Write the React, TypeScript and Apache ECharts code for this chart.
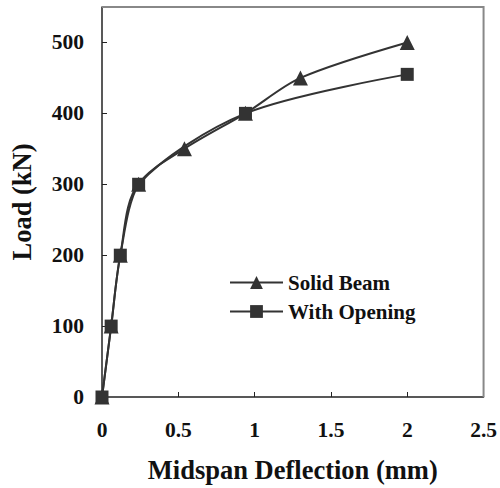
import React, { useEffect, useRef } from "react";
import * as echarts from "echarts";

const solidX = [0, 0.06, 0.12, 0.24, 0.54, 0.94, 1.3, 2.0];
const solidY = [0, 100, 200, 300, 350, 400, 450, 500];
const openX = [0, 0.06, 0.12, 0.24, 0.94, 2.0];
const openY = [0, 100, 200, 300, 400, 455];
const xRange = [0, 2.5];
const yRange = [0, 550];

const FONT = "Liberation Serif";

export default function App() {
  const ref = useRef<HTMLDivElement>(null);
  useEffect(() => {
    const chart = echarts.init(ref.current!, null, { renderer: "svg" });
    chart.setOption({
      animation: false,
      backgroundColor: "#fff",
      grid: {
        left: 96,
        top: 7,
        right: 15,
        bottom: 90,
      },
      legend: {
        orient: "vertical",
        left: 229,
        top: 272,
        padding: 0,
        itemWidth: 53,
        itemHeight: 16,
        itemGap: 8,
        textStyle: { fontFamily: FONT, fontWeight: "bold", fontSize: 21, color: "#111" },
        data: ["Solid Beam", "With Opening"],
      },
      xAxis: {
        type: "value",
        min: xRange[0],
        max: xRange[1],
        interval: 0.5,
        name: "Midspan Deflection (mm)",
        nameLocation: "middle",
        nameGap: 59,
        nameTextStyle: { fontFamily: FONT, fontWeight: "bold", fontSize: 26.5, color: "#111" },
        axisLine: { onZero: false, lineStyle: { color: "#222", width: 1.5 } },
        axisTick: { inside: true, length: 5, lineStyle: { color: "#222" } },
        splitLine: { show: false },
        axisLabel: {
          fontFamily: FONT,
          fontWeight: "bold",
          fontSize: 21.5,
          color: "#111",
          margin: 22,
          formatter: (v: number) => String(v),
        },
      },
      yAxis: {
        type: "value",
        min: yRange[0],
        max: yRange[1],
        interval: 100,
        name: "Load (kN)",
        nameLocation: "middle",
        nameGap: 67,
        nameTextStyle: { fontFamily: FONT, fontWeight: "bold", fontSize: 26.5, color: "#111" },
        axisLine: { show: true, onZero: false, lineStyle: { color: "#222", width: 1.5 } },
        axisTick: { show: true, inside: true, length: 5, lineStyle: { color: "#222" } },
        splitLine: { show: false },
        axisLabel: {
          fontFamily: FONT,
          fontWeight: "bold",
          fontSize: 21.5,
          color: "#111",
          margin: 18,
          showMaxLabel: false,
        },
      },
      series: [
        {
          name: "Solid Beam",
          type: "line",
          smooth: 0.3,
          symbol: "triangle",
          symbolSize: 15,
          lineStyle: { color: "#333", width: 2 },
          itemStyle: { color: "#333" },
          data: solidX.map((x, i) => [x, solidY[i]]),
        },
        {
          name: "With Opening",
          type: "line",
          smooth: 0.3,
          symbol: "rect",
          symbolSize: 13,
          lineStyle: { color: "#333", width: 2 },
          itemStyle: { color: "#333" },
          data: openX.map((x, i) => [x, openY[i]]),
        },
      ],
    });
    const tl = chart.convertToPixel({ gridIndex: 0 }, [xRange[0], yRange[1]]) as number[];
    const br = chart.convertToPixel({ gridIndex: 0 }, [xRange[1], yRange[0]]) as number[];
    chart.setOption({
      graphic: [
        {
          type: "polyline",
          silent: true,
          z: 1,
          shape: { points: [[tl[0], tl[1]], [br[0], tl[1]], [br[0], br[1]]] },
          style: { stroke: "#888", lineWidth: 2, fill: null },
        },
      ],
    });
    return () => chart.dispose();
  }, []);
  return (
    <div
      ref={ref}
      style={{ position: "fixed", left: 0, top: 0, width: 500, height: 488 }}
    />
  );
}
